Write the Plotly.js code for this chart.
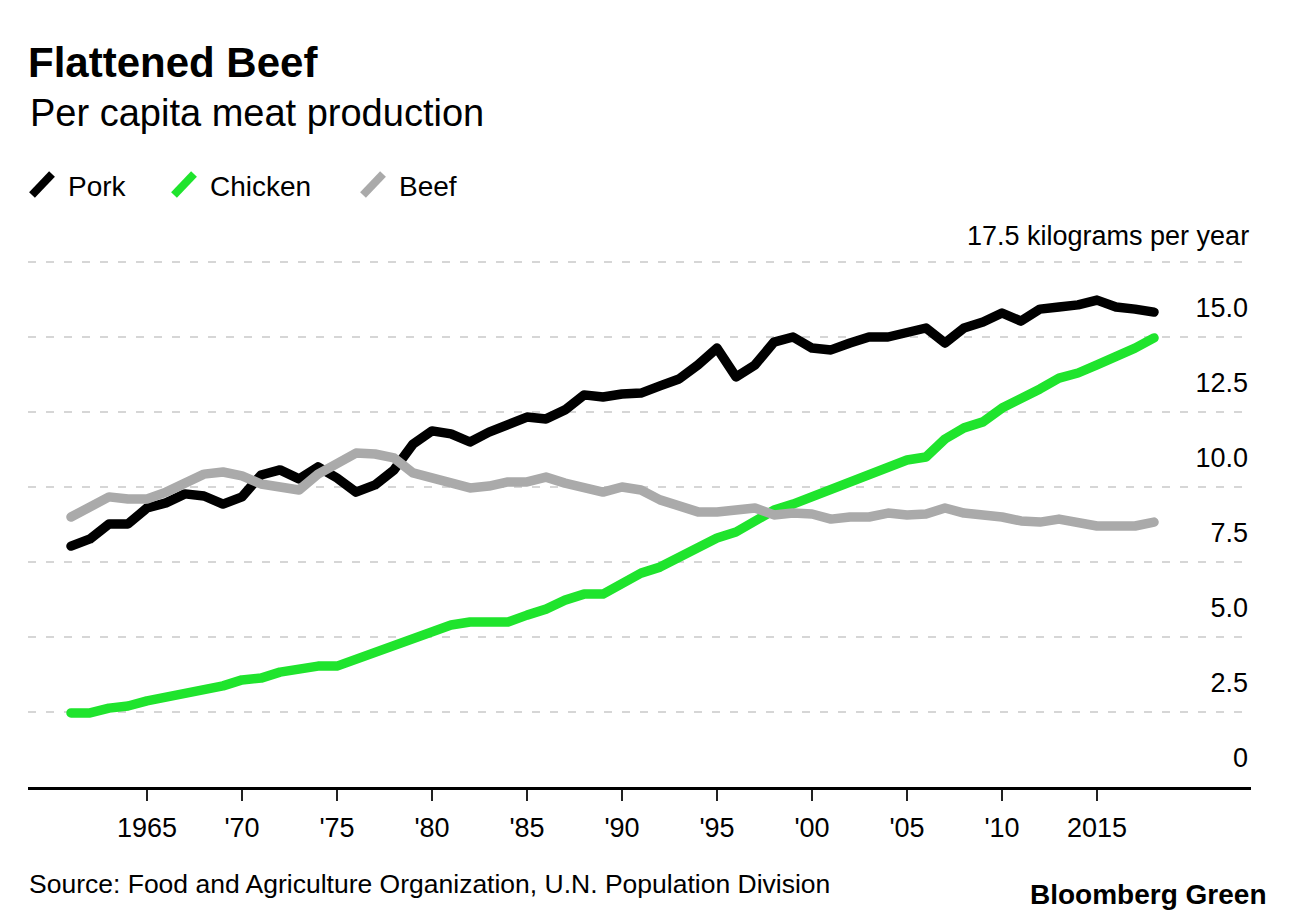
<!DOCTYPE html>
<html>
<head>
<meta charset="utf-8">
<script src="https://cdn.plot.ly/plotly-3.0.1.min.js"></script>
<style>
  html, body { margin: 0; padding: 0; background: #fff; }
  #chart { width: 1296px; height: 922px; }
  .scatterlayer .js-line { stroke-linecap: round !important; stroke-linejoin: round !important; }
</style>
</head>
<body>
<div id="chart"></div>
<script>
// ---- Data (kilograms per capita per year) ----
const years = [1961,1962,1963,1964,1965,1966,1967,1968,1969,1970,
  1971,1972,1973,1974,1975,1976,1977,1978,1979,1980,
  1981,1982,1983,1984,1985,1986,1987,1988,1989,1990,
  1991,1992,1993,1994,1995,1996,1997,1998,1999,2000,
  2001,2002,2003,2004,2005,2006,2007,2008,2009,2010,
  2011,2012,2013,2014,2015,2016,2017,2018];

const pork = [8.03,8.27,8.77,8.77,9.30,9.47,9.77,9.70,9.43,9.67,
  10.40,10.57,10.27,10.67,10.30,9.83,10.07,10.57,11.43,11.87,
  11.77,11.50,11.83,12.10,12.33,12.27,12.57,13.07,13.00,13.10,
  13.13,13.37,13.60,14.07,14.63,13.67,14.07,14.83,15.00,14.63,
  14.57,14.80,15.00,15.00,15.13,15.30,14.80,15.30,15.50,15.80,
  15.53,15.93,16.00,16.07,16.23,16.00,15.93,15.83];

const chicken = [2.47,2.47,2.63,2.70,2.87,3.00,3.07,3.20,3.37,3.57,
  3.63,3.83,3.93,4.03,4.03,4.27,4.47,4.73,5.00,5.20,
  5.40,5.50,5.50,5.50,5.73,5.93,6.23,6.43,6.43,6.77,
  7.13,7.33,7.63,7.97,8.30,8.50,8.90,9.23,9.43,9.67,
  9.93,10.23,10.40,10.67,10.90,11.00,11.60,11.97,12.17,12.63,
  12.93,13.27,13.63,13.80,14.07,14.33,14.63,14.97];

const beef = [9.00,9.33,9.67,9.60,9.60,9.83,10.17,10.43,10.50,10.37,
  10.10,10.03,9.90,10.43,10.80,11.13,11.10,10.97,10.47,10.30,
  10.20,9.97,10.03,10.17,10.17,10.33,10.13,10.00,9.83,10.00,
  9.90,9.57,9.33,9.17,9.17,9.23,9.30,9.07,9.13,9.10,
  8.93,9.00,9.00,9.13,9.07,9.10,9.30,9.13,9.10,9.00,
  8.87,8.83,8.93,8.83,8.70,8.70,8.70,8.83];

const seriesNames = ["Pork", "Chicken", "Beef"];
const seriesColors = ["#000000", "#1fe42d", "#aaaaaa"];

const xTickVals = [1965,1970,1975,1980,1985,1990,1995,2000,2005,2010,2015];
const xTickText = ["1965","'70","'75","'80","'85","'90","'95","'00","'05","'10","2015"];
const yTickVals = [0,2.5,5,7.5,10,12.5,15,17.5];
const yTickText = ["0","2.5","5.0","7.5","10.0","12.5","15.0","17.5 kilograms per year"];

// ---- Layout geometry ----
const W = 1296, H = 922;
const Y_MAX = 19.2;
const PX_PER_UNIT = 30;
const M = {l: 28, r: 45, b: 135};
M.t = Math.round(H - M.b - Y_MAX * PX_PER_UNIT);
const plotW = W - M.l - M.r, plotH = H - M.t - M.b;
const FONT = "Liberation Sans, Arial, Helvetica, sans-serif";
const px = x => (x - M.l) / plotW;
const py = y => (H - M.b - y) / plotH;

const values = [pork, chicken, beef];
const traces = values.map((v, i) => ({
  type: "scatter", mode: "lines", x: years, y: v,
  name: seriesNames[i],
  line: {color: seriesColors[i], width: 9.5},
  hoverinfo: "skip", showlegend: false
}));

// legend (custom slanted swatches + labels)
const legendSwatchX = [32, 174, 363];
const legendTextX = [66, 208, 397];
const shapes = [];
const annotations = [];
seriesNames.forEach((n, i) => {
  shapes.push({type: "line", xref: "paper", yref: "paper",
    x0: px(legendSwatchX[i]), y0: py(195), x1: px(legendSwatchX[i] + 20), y1: py(174),
    line: {color: seriesColors[i], width: 8}});
  annotations.push({xref: "paper", yref: "paper", x: px(legendTextX[i]), y: py(187),
    xanchor: "left", yanchor: "middle", showarrow: false, text: n,
    font: {family: FONT, size: 28, color: "#000"}});
});

// top y label carries the unit; drawn as right-aligned text above its gridline
const lastTick = yTickVals.length - 1;
annotations.push({xref: "paper", yref: "y", x: 1, y: yTickVals[lastTick],
  xanchor: "right", yanchor: "bottom", yshift: 9, showarrow: false,
  text: yTickText[lastTick], font: {family: FONT, size: 27, color: "#000"}});
const yTickTextAxis = yTickText.map((t, i) => i === lastTick ? "" : t);

annotations.push({xref: "paper", yref: "paper", x: px(28), y: py(113),
  xanchor: "left", yanchor: "middle", showarrow: false,
  text: "Per capita meat production", font: {family: FONT, size: 38, color: "#000"}});
annotations.push({xref: "paper", yref: "paper", x: px(27), y: py(884),
  xanchor: "left", yanchor: "middle", showarrow: false,
  text: "Source: Food and Agriculture Organization, U.N. Population Division",
  font: {family: FONT, size: 26.5, color: "#000"}});
annotations.push({xref: "paper", yref: "paper", x: px(1268), y: py(894),
  xanchor: "right", yanchor: "middle", showarrow: false,
  text: "<b>Bloomberg Green</b>", font: {family: FONT, size: 28, color: "#000"}});

const layout = {
  width: W, height: H,
  margin: M,
  paper_bgcolor: "#fff", plot_bgcolor: "#fff",
  showlegend: false,
  title: {text: "<b>Flattened Beef</b>", x: M.l / W, xanchor: "left", xref: "container",
    y: 1 - 62 / H, yanchor: "middle", yref: "container",
    font: {family: FONT, size: 42, color: "#000"}},
  xaxis: {
    range: [1961 - 43 / 19, 1961 + (W - M.r - 71) / 19],
    tickvals: xTickVals, ticktext: xTickText,
    ticks: "outside", ticklen: 11, tickwidth: 1.5, tickcolor: "#222",
    showline: true, linecolor: "#000", linewidth: 3,
    showgrid: false, zeroline: false, fixedrange: true,
    tickfont: {family: FONT, size: 27, color: "#000"},
    ticklabelstandoff: 4
  },
  yaxis: {
    range: [0, Y_MAX], side: "right",
    tickvals: yTickVals, ticktext: yTickTextAxis,
    ticklabelposition: "inside top",
    ticklabelshift: -11,
    ticks: "", showline: false, zeroline: false, fixedrange: true,
    showgrid: true, gridcolor: "#d6d6d6", gridwidth: 2, griddash: "8px,10px",
    tickfont: {family: FONT, size: 27, color: "#000"}
  },
  shapes: shapes,
  annotations: annotations
};

Plotly.newPlot("chart", traces, layout, {staticPlot: true, displayModeBar: false});
</script>
</body>
</html>
